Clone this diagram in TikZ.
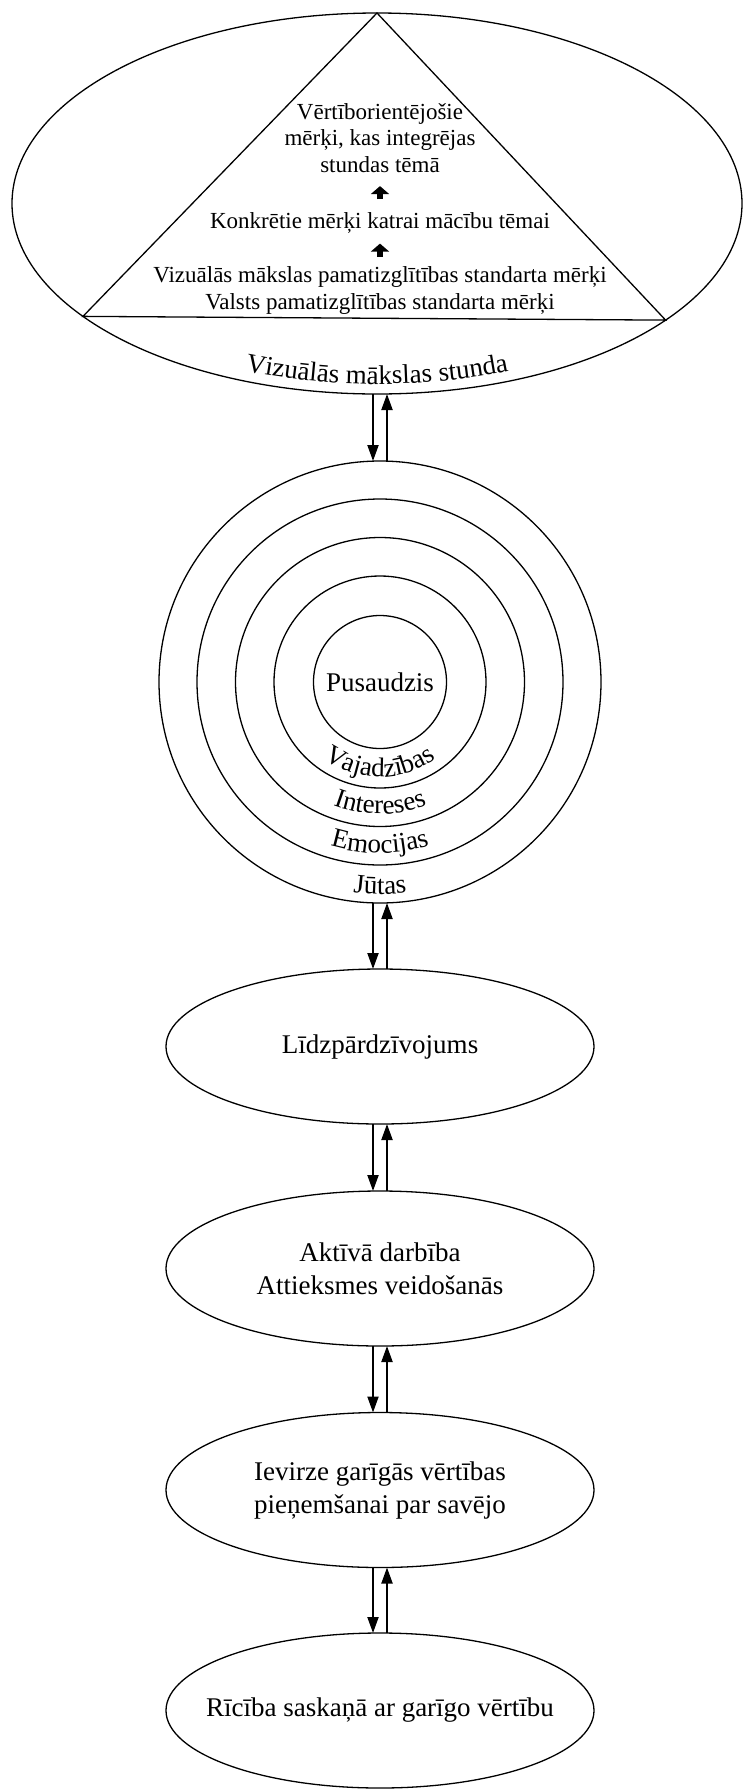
\documentclass[tikz,border=0pt]{standalone}
\usepackage{fontspec}
\setmainfont{Liberation Serif}
\usepackage{tikz}
\usetikzlibrary{shapes}
\usetikzlibrary{decorations.text}
\usetikzlibrary{arrows.meta}
\usetikzlibrary{calc}

\newcommand\lblfont{\fontsize{27}{33}\selectfont}
\newcommand\goalfont{\fontsize{23}{26.5}\selectfont}

\begin{document}
\begin{tikzpicture}[x=1pt,y=1pt,line width=1.3pt,
stage/.style={draw, ellipse, minimum width=428pt, minimum height=155pt, inner sep=0pt, outer sep=0pt},
ring/.style={draw, circle, inner sep=0pt, outer sep=0pt},
txt/.style={font=\lblfont, align=center, inner sep=0pt},
goaltxt/.style={font=\goalfont, align=center, inner sep=0pt},
goal/.style={line width=6pt, -{Triangle[length=8pt,width=18pt]}},
link/.style={line width=2pt, -{Triangle[length=16pt,width=11pt]}},
bent/.style={decorate, decoration={text along path, text align=center, text={|\lblfont|#1}}}]
\useasboundingbox (0,0) rectangle (743,-1789);

\node[draw, ellipse, minimum width=730pt, minimum height=381pt, inner sep=0pt, outer sep=0pt] (lesson) at (377,-203.5) {};
\draw (lesson.north) -- (lesson.201.5) -- (lesson.338.5) -- cycle;
\node[goaltxt] (vert) at (380,-138) {Vērtīborientējošie\\mērķi, kas integrējas\\stundas tēmā};
\node[goaltxt] (konk) at (380,-223) {Konkrētie mērķi katrai mācību tēmai};
\node[goaltxt] (std) at (380,-290.5) {Vizuālās mākslas pamatizglītības standarta mērķi\\Valsts pamatizglītības standarta mērķi};
\draw[goal] ($(konk.north)!.5!(vert.south)-(0,6.5)$) -- ($(konk.north)!.5!(vert.south)+(0,6.5)$);
\draw[goal] ($(std.north)!.5!(konk.south)-(0,6.5)$) -- ($(std.north)!.5!(konk.south)+(0,6.5)$);
\path[bent=Vizuālās mākslas stunda] ($(lesson.center)+(200:355 and 180.5)$) arc[start angle=200, end angle=340, x radius=355, y radius=180.5];

\foreach \d/\n in {442/r5,366/r4,289/r3,212/r2}
  \node[ring, minimum size=\d pt] (\n) at (380,-682) {};
\node[ring, minimum size=133pt, font=\lblfont] (core) at (380,-682) {Pusaudzis};
\path[bent=Vajadzības] ($(core.center)+(200:95)$) arc[start angle=200, end angle=340, radius=95];
\path[bent=Intereses] ($(core.center)+(200:132)$) arc[start angle=200, end angle=340, radius=132];
\path[bent=Emocijas] ($(core.center)+(200:171)$) arc[start angle=200, end angle=340, radius=171];
\path[bent=Jūtas] ($(core.center)+(200:212)$) arc[start angle=200, end angle=340, radius=212];

\node[stage] (lidz) at (380,-1046.5) {};
\node[txt] (lidzt) at (lidz) {Līdzpārdzīvojums};
\node[stage] (aktiv) at (380,-1268.5) {};
\node[txt] (aktivt) at (aktiv) {Aktīvā darbība\\Attieksmes veidošanās};
\node[stage] (ievirze) at (380,-1490) {};
\node[txt] (ievirzet) at (ievirze) {Ievirze garīgās vērtības\\pieņemšanai par savējo};
\node[stage] (ricib) at (380,-1710.5) {};
\node[txt] (ricibt) at (ricib) {Rīcība saskaņā ar garīgo vērtību};

\foreach \a/\b in {lesson/r5,r5/lidz,lidz/aktiv,aktiv/ievirze,ievirze/ricib} {
  \draw[link] ($(\a.south -| \b.north)+(-7,0)$) -- ($(\b.north)+(-7,0)$);
  \draw[link] ($(\b.north)+(7,0)$) -- ($(\a.south -| \b.north)+(7,0)$);
}
\end{tikzpicture}
\end{document}
